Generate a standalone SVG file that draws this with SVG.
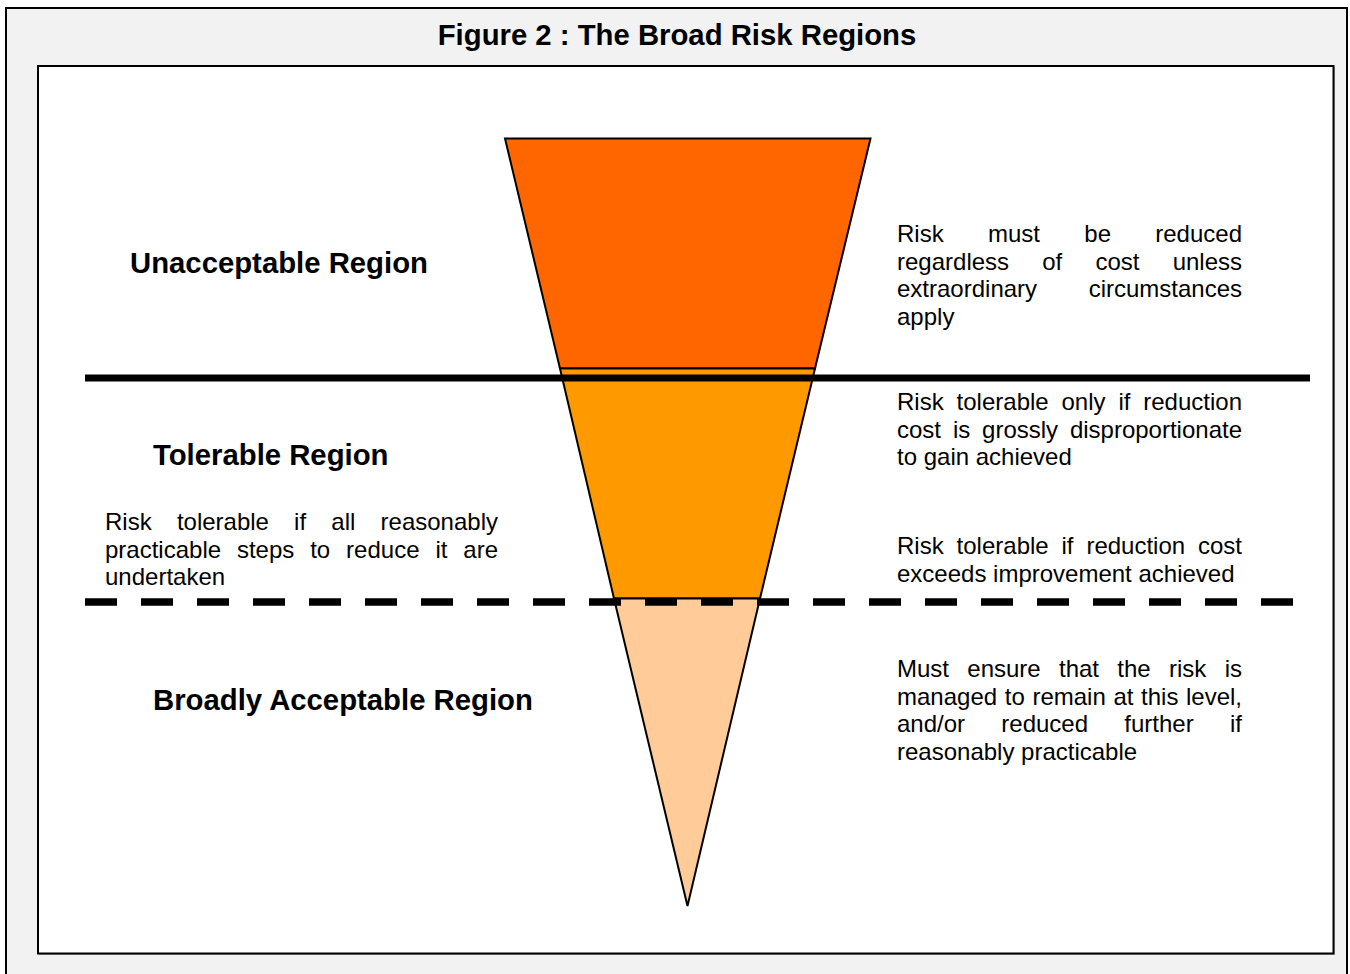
<svg xmlns="http://www.w3.org/2000/svg" width="1350" height="974" viewBox="0 0 1350 974">
  <style>
    .frame { fill: #f2f2f2; stroke: #000; stroke-width: 2; }
    .panel { fill: #fff; stroke: #000; stroke-width: 2; }
    .band { stroke: #000; stroke-width: 2; stroke-linejoin: miter; }
    .title { font-family: "Liberation Sans", Arial, sans-serif; font-weight: bold; font-size: 29.3px; fill: #000; }
    .label { font-family: "Liberation Sans", Arial, sans-serif; font-weight: bold; font-size: 29.3px; fill: #000; }
    .body { font-family: "Liberation Sans", Arial, sans-serif; font-size: 24px; fill: #000; }
    .end { text-anchor: end; }
  </style>

  <!-- outer frame and drawing panel -->
  <rect class="frame" x="6" y="8" width="1341" height="980"/>
  <rect x="39" y="67" width="1296" height="888" fill="#b0b0b0"/>
  <rect class="panel" x="38" y="66" width="1295.5" height="887.5"/>

  <text class="title" x="677" y="44.5" text-anchor="middle">Figure 2 : The Broad Risk Regions</text>

  <!-- risk funnel -->
  <g id="unacceptable-band">
    <polygon class="band" fill="#ff6600" points="505,138.5 870.5,138.5 815,368.5 560,368.5"/>
  </g>
  <g id="tolerable-band">
    <polygon class="band" fill="#ff9900" points="560,368.5 815,368.5 760,598.5 614,598.5"/>
  </g>
  <g id="broadly-acceptable-band">
    <polygon class="band" fill="#ffcc99" points="614,598.5 760,598.5 687.5,906"/>
  </g>

  <!-- region boundaries -->
  <g id="connectors">
    <line x1="85" y1="378" x2="1310" y2="378" stroke="#000" stroke-width="7"/>
    <line x1="85" y1="602" x2="1294" y2="602" stroke="#000" stroke-width="7.5" stroke-dasharray="32 24"/>
  </g>

  <!-- region names -->
  <g id="label-unacceptable">
    <text class="label" x="130" y="272.5">Unacceptable Region</text>
  </g>
  <g id="label-tolerable">
    <text class="label" x="153" y="464.5">Tolerable Region</text>
  </g>
  <g id="label-broadly-acceptable">
    <text class="label" x="153" y="709.5">Broadly Acceptable Region</text>
  </g>

  <!-- justified descriptions: words placed individually -->
  <g id="note-unacceptable" class="body">
    <text y="242"><tspan x="897">Risk</tspan><tspan x="988">must</tspan><tspan x="1084.3">be</tspan></text>
    <text class="end" x="1242" y="242">reduced</text>
    <text y="269.5"><tspan x="897">regardless</tspan><tspan x="1042.2">of</tspan><tspan x="1095.4">cost</tspan></text>
    <text class="end" x="1242" y="269.5">unless</text>
    <text x="897" y="297">extraordinary</text>
    <text class="end" x="1242" y="297">circumstances</text>
    <text x="897" y="324.5">apply</text>
  </g>

  <g id="note-tolerable-upper" class="body">
    <text y="410"><tspan x="897">Risk</tspan><tspan x="956.6">tolerable</tspan><tspan x="1061.5">only</tspan><tspan x="1118.4">if</tspan></text>
    <text class="end" x="1242" y="410">reduction</text>
    <text y="437.5"><tspan x="897">cost</tspan><tspan x="952.9">is</tspan><tspan x="982.1">grossly</tspan></text>
    <text class="end" x="1242" y="437.5">disproportionate</text>
    <text x="897" y="465">to gain achieved</text>
  </g>

  <g id="note-tolerable-lower" class="body">
    <text y="554"><tspan x="897">Risk</tspan><tspan x="956.6">tolerable</tspan><tspan x="1061.5">if</tspan><tspan x="1086.4">reduction</tspan></text>
    <text class="end" x="1242" y="554">cost</text>
    <text x="897" y="581.5">exceeds improvement achieved</text>
  </g>

  <g id="note-tolerable-left" class="body">
    <text y="530"><tspan x="105">Risk</tspan><tspan x="176.9">tolerable</tspan><tspan x="294.1">if</tspan><tspan x="331.3">all</tspan></text>
    <text class="end" x="498" y="530">reasonably</text>
    <text y="557.5"><tspan x="105">practicable</tspan><tspan x="236.9">steps</tspan><tspan x="310.2">to</tspan><tspan x="346.1">reduce</tspan><tspan x="435.4">it</tspan></text>
    <text class="end" x="498" y="557.5">are</text>
    <text x="105" y="585">undertaken</text>
  </g>

  <g id="note-broadly-acceptable" class="body">
    <text y="677"><tspan x="897">Must</tspan><tspan x="967.3">ensure</tspan><tspan x="1059">that</tspan><tspan x="1117.3">the</tspan><tspan x="1169">risk</tspan></text>
    <text class="end" x="1242" y="677">is</text>
    <text y="704.5"><tspan x="897">managed</tspan><tspan x="1004.8">to</tspan><tspan x="1032.4">remain</tspan><tspan x="1113.4">at</tspan><tspan x="1141.1">this</tspan></text>
    <text class="end" x="1242" y="704.5">level,</text>
    <text y="732"><tspan x="897">and/or</tspan><tspan x="1001.3">reduced</tspan><tspan x="1124.3">further</tspan></text>
    <text class="end" x="1242" y="732">if</text>
    <text x="897" y="759.5">reasonably practicable</text>
  </g>
</svg>
